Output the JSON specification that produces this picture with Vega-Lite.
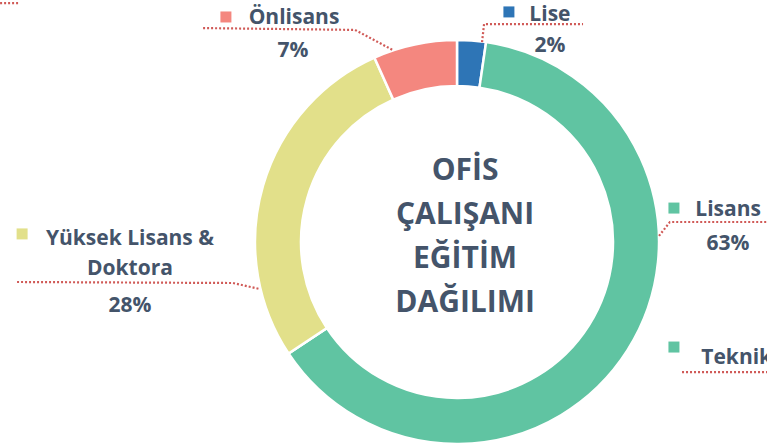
{
  "$schema": "https://vega.github.io/schema/vega-lite/v6.json",
  "width": 620,
  "height": 408,
  "autosize": {"type": "none"},
  "padding": {"left": 147, "top": 38, "right": 0, "bottom": 0},
  "background": "white",
  "config": {"view": {"stroke": null}},
  "datasets": {
    "cats": [
      {"cat": "Lise", "name": "Lise", "share": 0.023, "ord": 1, "mx": 0.257, "my": 1.139, "nx": 0.46, "ny": 1.094, "px": 0.46, "py": 0.941},
      {"cat": "Lisans", "name": "Lisans", "share": 0.634, "ord": 2, "mx": 1.074, "my": 0.168, "nx": 1.342, "ny": 0.129, "px": 1.342, "py": -0.04},
      {"cat": "Teknik Lise", "name": "Teknik Lise", "share": 0, "ord": 3, "mx": 1.074, "my": -0.52, "nx": 1.5, "ny": -0.604, "px": null, "py": null},
      {"cat": "Yüksek Lisans & Doktora", "name": "Yüksek Lisans &\nDoktora", "share": 0.276, "ord": 4, "mx": -2.153, "my": 0.04, "nx": -1.619, "ny": -0.015, "px": -1.619, "py": -0.347},
      {"cat": "Önlisans", "name": "Önlisans", "share": 0.067, "ord": 5, "mx": -1.144, "my": 1.114, "nx": -0.807, "ny": 1.079, "px": -0.812, "py": 0.916}
    ],
    "leaders": [
      {"id": "Lise", "seq": 1, "x": 0.124, "y": 0.99},
      {"id": "Lise", "seq": 2, "x": 0.134, "y": 1.079},
      {"id": "Lise", "seq": 3, "x": 0.624, "y": 1.079},
      {"id": "Önlisans", "seq": 1, "x": -1.257, "y": 1.059},
      {"id": "Önlisans", "seq": 2, "x": -0.505, "y": 1.05},
      {"id": "Önlisans", "seq": 3, "x": -0.317, "y": 0.95},
      {"id": "Lisans", "seq": 1, "x": 1.0, "y": 0.03},
      {"id": "Lisans", "seq": 2, "x": 1.054, "y": 0.099},
      {"id": "Lisans", "seq": 3, "x": 1.535, "y": 0.099},
      {"id": "Teknik Lise", "seq": 1, "x": 1.114, "y": -0.644},
      {"id": "Teknik Lise", "seq": 2, "x": 1.535, "y": -0.644},
      {"id": "Yüksek", "seq": 1, "x": -2.178, "y": -0.198},
      {"id": "Yüksek", "seq": 2, "x": -1.109, "y": -0.203},
      {"id": "Yüksek", "seq": 3, "x": -0.975, "y": -0.233},
      {"id": "Diğer", "seq": 1, "x": -2.262, "y": 1.183},
      {"id": "Diğer", "seq": 2, "x": -2.173, "y": 1.183}
    ],
    "title": [
      {"t": "OFİS\nÇALIŞANI\nEĞİTİM\nDAĞILIMI", "x": 0.04, "y": 0.307}
    ]
  },
  "layer": [
    {
      "data": {"name": "cats"},
      "mark": {"type": "arc", "innerRadius": 156, "outerRadius": 202, "stroke": "white", "strokeWidth": 2.5},
      "encoding": {
        "theta": {"field": "share", "type": "quantitative", "stack": true},
        "order": {"field": "ord", "type": "quantitative"},
        "color": {
          "field": "cat", "type": "nominal", "legend": null,
          "scale": {
            "domain": ["Lise", "Lisans", "Teknik Lise", "Yüksek Lisans & Doktora", "Önlisans"],
            "range": ["#2e75b6", "#60c4a2", "#60c4a2", "#e2e08a", "#f4877f"]
          }
        }
      }
    },
    {
      "data": {"name": "leaders"},
      "mark": {"type": "line", "color": "#d05a57", "strokeWidth": 2.2, "strokeDash": [2, 2]},
      "encoding": {
        "x": {"field": "x", "type": "quantitative", "axis": null, "scale": {"domain": [-1.5347, 1.5347], "nice": false, "zero": false}},
        "y": {"field": "y", "type": "quantitative", "axis": null, "scale": {"domain": [-1.0099, 1.0099], "nice": false, "zero": false}},
        "detail": {"field": "id", "type": "nominal"},
        "order": {"field": "seq", "type": "quantitative"}
      }
    },
    {
      "data": {"name": "cats"},
      "mark": {"type": "point", "shape": "square", "filled": true, "size": 121, "opacity": 1},
      "encoding": {
        "x": {"field": "mx", "type": "quantitative", "axis": null, "scale": {"domain": [-1.5347, 1.5347], "nice": false, "zero": false}},
        "y": {"field": "my", "type": "quantitative", "axis": null, "scale": {"domain": [-1.0099, 1.0099], "nice": false, "zero": false}},
        "color": {"field": "cat", "type": "nominal", "legend": null}
      }
    },
    {
      "data": {"name": "cats"},
      "mark": {"type": "text", "font": "Open Sans", "fontWeight": "bold", "fontSize": 21, "fill": "#44546a", "align": "center", "baseline": "alphabetic", "lineBreak": "\n", "lineHeight": 30},
      "encoding": {
        "x": {"field": "nx", "type": "quantitative", "axis": null, "scale": {"domain": [-1.5347, 1.5347], "nice": false, "zero": false}},
        "y": {"field": "ny", "type": "quantitative", "axis": null, "scale": {"domain": [-1.0099, 1.0099], "nice": false, "zero": false}},
        "text": {"field": "name", "type": "nominal"}
      }
    },
    {
      "data": {"name": "cats"},
      "transform": [{"filter": "datum.py != null"}],
      "mark": {"type": "text", "font": "Open Sans", "fontWeight": "bold", "fontSize": 21, "fill": "#44546a", "align": "center", "baseline": "alphabetic"},
      "encoding": {
        "x": {"field": "px", "type": "quantitative", "axis": null, "scale": {"domain": [-1.5347, 1.5347], "nice": false, "zero": false}},
        "y": {"field": "py", "type": "quantitative", "axis": null, "scale": {"domain": [-1.0099, 1.0099], "nice": false, "zero": false}},
        "text": {"field": "share", "type": "quantitative", "format": ".0%"}
      }
    },
    {
      "data": {"name": "title"},
      "mark": {"type": "text", "font": "Open Sans", "fontWeight": "bold", "fontSize": 30, "fill": "#44546a", "align": "center", "baseline": "alphabetic", "lineBreak": "\n", "lineHeight": 44},
      "encoding": {
        "x": {"field": "x", "type": "quantitative", "axis": null, "scale": {"domain": [-1.5347, 1.5347], "nice": false, "zero": false}},
        "y": {"field": "y", "type": "quantitative", "axis": null, "scale": {"domain": [-1.0099, 1.0099], "nice": false, "zero": false}},
        "text": {"field": "t", "type": "nominal"}
      }
    }
  ]
}
